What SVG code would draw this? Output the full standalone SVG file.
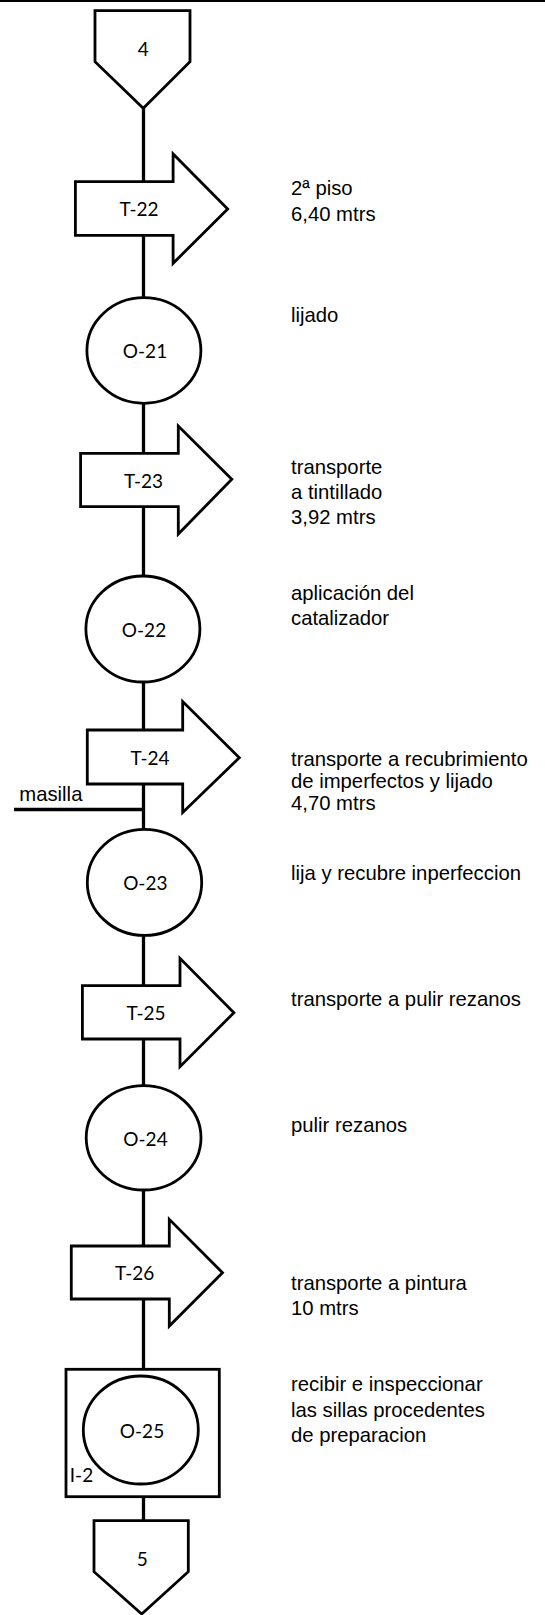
<svg xmlns="http://www.w3.org/2000/svg" width="545" height="1615" viewBox="0 0 545 1615">
<style>
.shape{fill:#fff;stroke:#000;stroke-width:2.8;stroke-linejoin:miter}
.conn{stroke:#000;stroke-width:3.3;fill:none}
.lbl{font-family:Lato,"Open Sans",sans-serif;font-size:19px;fill:#000;text-anchor:middle}
.note{font-family:"Liberation Sans",Arial,sans-serif;font-size:20.3px;fill:#000}
</style>
<rect x="0" y="0" width="545" height="1615" fill="#fff"/>
<line x1="0" y1="1" x2="545" y2="1" stroke="#000" stroke-width="2"/>
<g id="connectors">
<line class="conn" x1="143.5" y1="107" x2="143.5" y2="182"/>
<line class="conn" x1="143.5" y1="235" x2="143.5" y2="298"/>
<line class="conn" x1="143.5" y1="403" x2="143.5" y2="453"/>
<line class="conn" x1="143.5" y1="507" x2="143.5" y2="576"/>
<line class="conn" x1="143.5" y1="682" x2="143.5" y2="730"/>
<line class="conn" x1="143.5" y1="784" x2="143.5" y2="830"/>
<line class="conn" x1="14" y1="809.5" x2="143.5" y2="809.5"/>
<line class="conn" x1="143.5" y1="935" x2="143.5" y2="986"/>
<line class="conn" x1="143.5" y1="1039" x2="143.5" y2="1086"/>
<line class="conn" x1="143.5" y1="1190" x2="143.5" y2="1246"/>
<line class="conn" x1="143.5" y1="1299" x2="143.5" y2="1370"/>
<line class="conn" x1="143.5" y1="1497" x2="143.5" y2="1521"/>
<text class="note" x="19.3" y="801">masilla</text>
</g>
<g id="conn4">
<polygon class="shape" points="95,10.7 190,10.7 190,61.7 143.3,108.3 95,61.7"/>
<text class="lbl" x="143.3" y="56">4</text>
</g>
<g id="T-22">
<polygon class="shape" points="75.4,181.7 173.1,181.7 173.1,154 227.7,209 173.1,263.3 173.1,235.3 75.4,235.3"/>
<text class="lbl" x="139" y="216">T-22</text>
<text class="note" x="291" y="195">2ª piso</text>
<text class="note" x="291" y="221">6,40 mtrs</text>
</g>
<g id="O-21">
<ellipse class="shape" cx="143.9" cy="350.5" rx="57" ry="52.8"/>
<text class="lbl" x="145" y="357.5">O-21</text>
<text class="note" x="291" y="322">lijado</text>
</g>
<g id="T-23">
<polygon class="shape" points="80.6,453.3 178.3,453.3 178.3,426 231.8,479.3 178.3,534 178.3,506.7 80.6,506.7"/>
<text class="lbl" x="143.5" y="488">T-23</text>
<text class="note" x="291" y="473.5">transporte</text>
<text class="note" x="291" y="499">a tintillado</text>
<text class="note" x="291" y="524">3,92 mtrs</text>
</g>
<g id="O-22">
<ellipse class="shape" cx="142.9" cy="629" rx="57" ry="53"/>
<text class="lbl" x="144" y="637">O-22</text>
<text class="note" x="291" y="600">aplicación del</text>
<text class="note" x="291" y="625">catalizador</text>
</g>
<g id="T-24">
<polygon class="shape" points="87.3,730 182.7,730 182.7,701.5 239.3,757.7 182.7,812.5 182.7,784 87.3,784"/>
<text class="lbl" x="150" y="765">T-24</text>
<text class="note" x="291" y="766">transporte a recubrimiento</text>
<text class="note" x="291" y="788">de imperfectos y lijado</text>
<text class="note" x="291" y="810">4,70 mtrs</text>
</g>
<g id="O-23">
<ellipse class="shape" cx="144.5" cy="882.4" rx="57.2" ry="53"/>
<text class="lbl" x="145.3" y="889.5">O-23</text>
<text class="note" x="291" y="880">lija y recubre inperfeccion</text>
</g>
<g id="T-25">
<polygon class="shape" points="82.4,985.7 180,985.7 180,958.3 233.9,1012.7 180,1066.7 180,1039 82.4,1039"/>
<text class="lbl" x="146" y="1020">T-25</text>
<text class="note" x="291" y="1006">transporte a pulir rezanos</text>
</g>
<g id="O-24">
<ellipse class="shape" cx="143.6" cy="1137.8" rx="57.4" ry="52.2"/>
<text class="lbl" x="145.5" y="1145.5">O-24</text>
<text class="note" x="291" y="1132">pulir rezanos</text>
</g>
<g id="T-26">
<polygon class="shape" points="71.3,1246 169.3,1246 169.3,1219.3 222.5,1272.7 169.3,1326 169.3,1299 71.3,1299"/>
<text class="lbl" x="134.7" y="1280">T-26</text>
<text class="note" x="291" y="1290">transporte a pintura</text>
<text class="note" x="291" y="1315">10 mtrs</text>
</g>
<g id="O-25">
<rect class="shape" x="66" y="1369.3" width="153.3" height="127.4"/>
<ellipse class="shape" cx="140.8" cy="1430" rx="57.5" ry="54"/>
<text class="lbl" x="142" y="1438">O-25</text>
<text class="lbl" x="81.5" y="1481.5">I-2</text>
<text class="note" x="291" y="1391">recibir e inspeccionar</text>
<text class="note" x="291" y="1416.5">las sillas procedentes</text>
<text class="note" x="291" y="1441.5">de preparacion</text>
</g>
<g id="conn5">
<polygon class="shape" points="94,1520.7 188.3,1520.7 188.3,1571.7 141.7,1614 94,1571.7"/>
<text class="lbl" x="142.3" y="1565.5">5</text>
</g>
</svg>
